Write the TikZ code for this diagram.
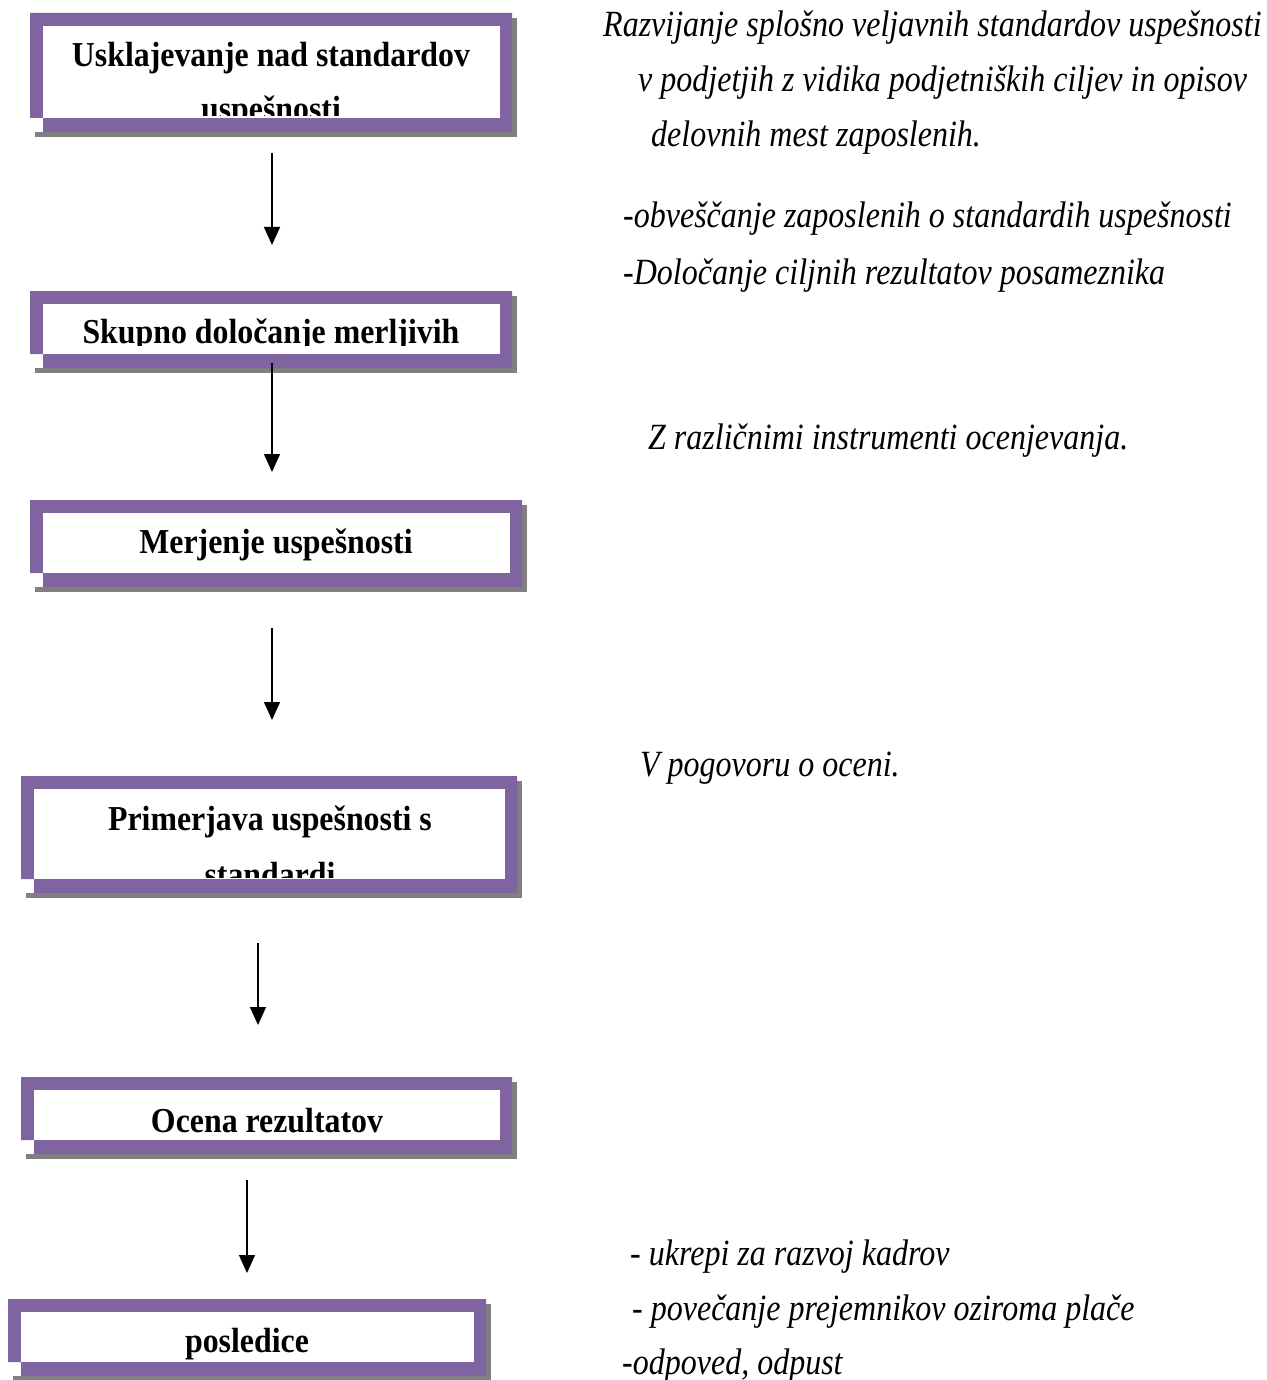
\documentclass[tikz,border=0pt]{standalone}
\usepackage{fontspec}
\setmainfont{Liberation Serif}
\newfontfamily\boxfont{Liberation Serif}[FakeStretch=0.91]
\newfontfamily\notefont{Liberation Serif}[FakeStretch=0.865]
\usepackage{tikz}
\definecolor{framepurple}{RGB}{128, 100, 162}
\definecolor{shadowgray}{RGB}{128, 128, 128}
\usetikzlibrary{arrows.meta, calc}

\tikzset{
    boxtext/.style={font=\boxfont\bfseries\fontsize{35}{42}\selectfont, inner sep=0pt, anchor=base},
    notetext/.style={font=\notefont\itshape\fontsize{37}{44}\selectfont, inner sep=0pt, anchor=base west},
    flowarrow/.style={line width=1.3pt, -{Triangle[length=18pt, width=16pt]}},
}

% #1 name, #2 left, #3 top, #4 right, #5 bottom
\newcommand{\procframe}[5]{%
    \fill[shadowgray] (#2+5,#3+5) rectangle (#4+5,#5+5);
    \fill[white] (#2,#3) rectangle (#4,#5);
    \fill[framepurple] (#2,#3) -- (#4,#3) -- (#4,#5) -- (#2+13,#5) -- (#2+13,#5-14) -- (#2,#5-14) -- cycle;
    \coordinate (#1-nw) at (#2+13,#3+13);
    \coordinate (#1-se) at (#4-12,#5-14);
    \fill[white] (#1-nw) rectangle (#1-se);
}

\begin{document}
\begin{tikzpicture}[x=1pt, y=-1pt]
    \useasboundingbox (0,0) rectangle (1266,1380);
    \fill[white] (0,0) rectangle (1266,1380);

    % boxes
    \procframe{b1}{30}{13}{512}{132}
    \procframe{b2}{30}{291}{512}{368}
    \procframe{b3}{30}{500}{522}{587}
    \procframe{b4}{21}{776}{517}{893}
    \procframe{b5}{21}{1077}{512}{1154}
    \procframe{b6}{8}{1299}{486}{1376}

    \begin{scope}
        \clip (b1-nw) rectangle (500,116);
        \node[boxtext] (t1a) at (271,67) {Usklajevanje nad standardov};
        \node[boxtext] (t1b) at (271,121) {uspešnosti};
    \end{scope}
    \begin{scope}
        \clip (b2-nw) rectangle (500,345);
        \node[boxtext] (t2) at (271,343) {Skupno določanje merljivih};
    \end{scope}
    \node[boxtext] (t3) at (276,553) {Merjenje uspešnosti};
    \begin{scope}
        \clip (b4-nw) rectangle (505,877);
        \node[boxtext] (t4a) at (270,830) {Primerjava uspešnosti s};
        \node[boxtext] (t4b) at (270,886) {standardi};
    \end{scope}
    \node[boxtext] (t5) at (267,1132) {Ocena rezultatov};
    \node[boxtext] (t6) at (247,1352) {posledice};

    % arrows
    \coordinate (a1top) at (272,153);  \coordinate (a1tip) at (272,245);
    \coordinate (a2top) at (272,363);  \coordinate (a2tip) at (272,472);
    \coordinate (a3top) at (272,628);  \coordinate (a3tip) at (272,720);
    \coordinate (a4top) at (258,943);  \coordinate (a4tip) at (258,1025);
    \coordinate (a5top) at (247,1180); \coordinate (a5tip) at (247,1273);
    \foreach \i in {1,...,5}
        \draw[flowarrow] (a\i top) -- (a\i tip);

    % notes on the right
    \node[notetext] (n1) at (603,37) {Razvijanje splošno veljavnih standardov uspešnosti};
    \node[notetext] (n2) at (638,92) {v podjetjih z vidika podjetniških ciljev in opisov};
    \node[notetext] (n3) at (651,147) {delovnih mest zaposlenih.};
    \node[notetext] (n4) at (623,228) {-obveščanje zaposlenih o standardih uspešnosti};
    \node[notetext] (n5) at (623,284) {-Določanje ciljnih rezultatov posameznika};
    \node[notetext] (n6) at (648,449) {Z različnimi instrumenti ocenjevanja.};
    \node[notetext] (n7) at (640,776) {V pogovoru o oceni.};
    \node[notetext] (n8) at (630,1265) {- ukrepi za razvoj kadrov};
    \node[notetext] (n9) at (632,1320) {- povečanje prejemnikov oziroma plače};
    \node[notetext] (n10) at (622,1374) {-odpoved, odpust};
\end{tikzpicture}
\end{document}
